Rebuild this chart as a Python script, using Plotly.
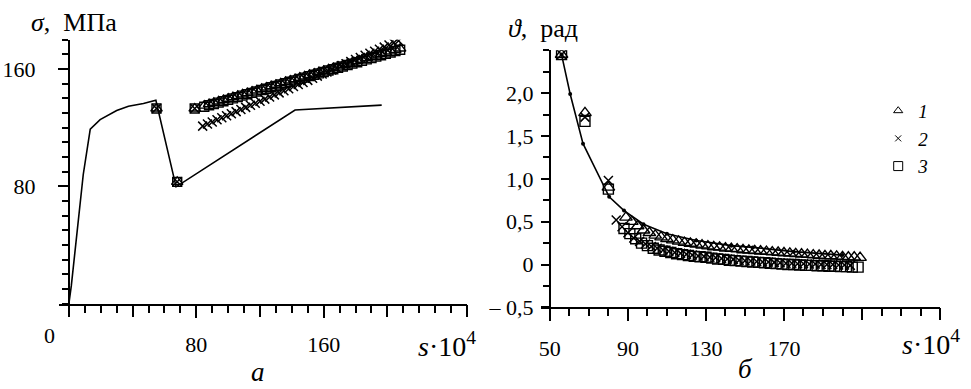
import plotly.graph_objects as go

# ---------------- Panel a: sigma (MPa) vs s*10^4 ----------------
s_line_a = [0, 1.5, 9, 13.4, 19.6, 30, 37.4, 46.8, 54.6, 67.3, 142, 196.4]
sigma_line_a = [0, 12, 88, 119, 125.4, 131.6, 134.6, 136.4, 138.6, 79.6, 132, 135.3]

s_a_13 = [55, 68, 79, 85, 88, 91, 94, 97, 100, 103, 106, 109, 112, 115, 118, 121, 124,
          127, 130, 133, 136, 139, 142, 145, 148, 151, 154, 157, 160, 163, 166, 169,
          172, 175, 178, 181, 184, 187, 190, 193, 196, 199, 202, 205, 208]
sigma_a_1 = [133, 83, 133, 135.0, 136.0, 136.9, 137.8, 138.8, 139.7, 140.7, 141.6, 142.6,
             143.5, 144.5, 145.4, 146.4, 147.3, 148.3, 149.2, 150.2, 151.1, 152.1, 153.0,
             154.0, 154.9, 155.9, 156.8, 157.8, 158.7, 159.7, 160.6, 161.6, 162.5, 163.5,
             164.4, 165.4, 166.3, 167.3, 168.2, 169.2, 170.1, 171.1, 172.0, 173.0, 173.9]
sigma_a_3 = [133, 83, 133, 134.2, 135.2, 136.1, 137.0, 138.0, 138.9, 139.9, 140.8, 141.8,
             142.7, 143.7, 144.6, 145.6, 146.5, 147.5, 148.4, 149.4, 150.3, 151.3, 152.2,
             153.2, 154.1, 155.1, 156.0, 157.0, 157.9, 158.9, 159.8, 160.8, 161.7, 162.7,
             163.6, 164.6, 165.5, 166.5, 167.4, 168.4, 169.3, 170.3, 171.2, 172.2, 173.1]
s_a_2 = [55, 68, 79, 84, 87, 90, 93, 96, 99, 102, 105, 108, 111, 114, 117, 120, 123, 126,
         129, 132, 135, 138, 141, 144, 147, 150, 153, 156, 159, 162, 165, 168, 171, 174,
         177, 180, 183, 186, 189, 192, 195, 198, 201, 204, 207]
sigma_a_2 = [133, 83, 133, 121.0, 122.4, 123.8, 125.3, 126.7, 128.1, 129.5, 130.9, 132.4,
             133.8, 135.2, 136.6, 138.0, 139.4, 140.9, 142.3, 143.7, 145.1, 146.5, 148.0,
             149.4, 150.8, 152.2, 153.6, 155.1, 156.5, 157.9, 159.3, 160.7, 162.2, 163.6,
             165.0, 166.4, 167.8, 169.3, 170.7, 172.1, 173.5, 174.9, 176.4, 177.8, 179.2]

# ---------------- Panel b: theta (rad) vs s*10^4 ----------------
s_line_b = [56, 60.4, 67, 80.4, 88, 98, 110, 125, 143, 154, 175, 200]
theta_line_b = [2.45, 1.99, 1.41, 0.79, 0.63, 0.47, 0.36, 0.28, 0.22, 0.20, 0.15, 0.11]

s_b_1 = [56, 68, 80, 89, 92, 95, 98, 101, 104, 107, 110, 113, 116, 119, 122, 125, 128, 131,
         134, 137, 140, 143, 146, 149, 152, 155, 158, 161, 164, 167, 170, 173, 176, 179,
         182, 185, 188, 191, 194, 197, 200, 203, 206, 209]
theta_b_1 = [2.45, 1.77, 0.90, 0.55, 0.50, 0.45, 0.40, 0.37, 0.34, 0.32, 0.30, 0.285, 0.27,
             0.255, 0.245, 0.235, 0.225, 0.215, 0.205, 0.20, 0.19, 0.185, 0.18, 0.17, 0.165,
             0.16, 0.155, 0.15, 0.145, 0.14, 0.135, 0.13, 0.125, 0.12, 0.115, 0.11, 0.105,
             0.10, 0.10, 0.095, 0.09, 0.085, 0.085, 0.08]
s_b_2 = [56, 68, 80, 84, 87, 90, 93, 96, 99, 102, 105, 108, 111, 114, 117, 120, 123, 126,
         129, 132, 135, 138, 141, 144, 147, 150, 153, 156, 159, 162, 165, 168, 171, 174,
         177, 180, 183, 186, 189, 192, 195, 198, 201, 204]
theta_b_2 = [2.45, 1.72, 0.98, 0.52, 0.44, 0.37, 0.31, 0.27, 0.24, 0.21, 0.19, 0.17, 0.155,
             0.14, 0.13, 0.12, 0.11, 0.10, 0.095, 0.085, 0.08, 0.07, 0.065, 0.06, 0.05, 0.045,
             0.04, 0.035, 0.03, 0.03, 0.025, 0.02, 0.015, 0.015, 0.01, 0.01, 0.005, 0.005,
             0.0, 0.0, 0.0, -0.005, -0.005, -0.01]
s_b_3 = [56, 68, 80, 88, 91, 94, 97, 100, 103, 106, 109, 112, 115, 118, 121, 124, 127, 130,
         133, 136, 139, 142, 145, 148, 151, 154, 157, 160, 163, 166, 169, 172, 175, 178,
         181, 184, 187, 190, 193, 196, 199, 202, 205, 208]
theta_b_3 = [2.45, 1.67, 0.88, 0.42, 0.36, 0.30, 0.25, 0.22, 0.19, 0.17, 0.155, 0.14, 0.125,
             0.115, 0.105, 0.095, 0.09, 0.085, 0.075, 0.065, 0.06, 0.05, 0.045, 0.04, 0.035,
             0.03, 0.025, 0.02, 0.015, 0.01, 0.005, 0.0, 0.0, -0.005, -0.01, -0.01, -0.015,
             -0.015, -0.02, -0.02, -0.025, -0.025, -0.03, -0.03]

series_names = ["<i>1</i>", "<i>2</i>", "<i>3</i>"]

# tick positions / labels
xa_label_vals = [80, 160]
xa_long_vals = [0, 40, 120, 200, 250]
ya_label_vals = [80, 160]
xb_label_vals = [50, 90, 130, 170]
xb_long_vals = [210, 250]
yb_label_vals = [-0.5, 0, 0.5, 1.0, 1.5, 2.0]
yb_label_text = ["\u2013 0,5", "0", "0,5", "1,0", "1,5", "2,0"]

FONT = "Liberation Serif"
BLACK = "black"
SYMBOLS = ["triangle-up-open", "x-thin-open", "square-open"]

fig = go.Figure()

# panel a
fig.add_trace(go.Scatter(x=s_line_a, y=sigma_line_a, mode="lines",
                         line=dict(color=BLACK, width=1.6), showlegend=False,
                         xaxis="x", yaxis="y"))
fig.add_trace(go.Scatter(x=s_a_13, y=sigma_a_1, mode="markers", showlegend=False,
                         marker=dict(symbol=SYMBOLS[0], size=10, color=BLACK,
                                     line=dict(width=1.4)), xaxis="x", yaxis="y"))
fig.add_trace(go.Scatter(x=s_a_2, y=sigma_a_2, mode="markers", showlegend=False,
                         marker=dict(symbol=SYMBOLS[1], size=9, color=BLACK,
                                     line=dict(width=1.5, color=BLACK)), xaxis="x", yaxis="y"))
fig.add_trace(go.Scatter(x=s_a_13, y=sigma_a_3, mode="markers", showlegend=False,
                         marker=dict(symbol=SYMBOLS[2], size=9, color=BLACK,
                                     line=dict(width=1.4)), xaxis="x", yaxis="y"))

# panel b
fig.add_trace(go.Scatter(x=s_line_b, y=theta_line_b, mode="lines+markers",
                         line=dict(color=BLACK, width=1.6),
                         marker=dict(size=4, color=BLACK), showlegend=False,
                         xaxis="x2", yaxis="y2"))
fig.add_trace(go.Scatter(x=s_b_1, y=theta_b_1, mode="markers", showlegend=False,
                         marker=dict(symbol=SYMBOLS[0], size=11, color=BLACK,
                                     line=dict(width=1.4)), xaxis="x2", yaxis="y2"))
fig.add_trace(go.Scatter(x=s_b_2, y=theta_b_2, mode="markers", showlegend=False,
                         marker=dict(symbol=SYMBOLS[1], size=9, color=BLACK,
                                     line=dict(width=1.5, color=BLACK)), xaxis="x2", yaxis="y2"))
fig.add_trace(go.Scatter(x=s_b_3, y=theta_b_3, mode="markers", showlegend=False,
                         marker=dict(symbol=SYMBOLS[2], size=10, color=BLACK,
                                     line=dict(width=1.4)), xaxis="x2", yaxis="y2"))

# legend entries (small symbols, as in the reference key)
legend_sizes = [8, 6, 9]
for name, sym, sz in zip(series_names, SYMBOLS, legend_sizes):
    fig.add_trace(go.Scatter(x=[None], y=[None], mode="markers", name=name,
                             marker=dict(symbol=sym, size=sz, color=BLACK,
                                         line=dict(width=1, color=BLACK)),
                             xaxis="x2", yaxis="y2"))

W, H = 971, 389

def px_x(p):
    return p / W

def px_y(p):
    return (H - p) / H

tickfont = dict(family=FONT, size=22, color=BLACK)

common_axis = dict(showgrid=False, zeroline=False, showline=True, linecolor=BLACK,
                   linewidth=2, ticks="outside", tickcolor=BLACK, tickwidth=1.5,
                   tickfont=tickfont, fixedrange=True)
tick_only = dict(showgrid=False, zeroline=False, showline=False, ticks="outside",
                 tickcolor=BLACK, tickwidth=1.5, showticklabels=False, fixedrange=True,
                 tickmode="array", ticklen=12)

fig.update_layout(
    width=W, height=H,
    margin=dict(l=0, r=0, t=0, b=0),
    paper_bgcolor="white", plot_bgcolor="white",
    font=dict(family=FONT, color=BLACK),
    xaxis=dict(common_axis, domain=[px_x(57), px_x(466)], range=[-6.3, 250],
               anchor="y", tickmode="array",
               tickvals=xa_label_vals, ticktext=[str(v) for v in xa_label_vals],
               ticklen=12, ticklabelstandoff=8,
               minor=dict(tick0=0, dtick=10, ticks="outside", ticklen=7,
                          tickcolor=BLACK, tickwidth=1.5)),
    xaxis3=dict(tick_only, overlaying="x", anchor="y", range=[-6.3, 250],
                tickvals=xa_long_vals),
    yaxis=dict(common_axis, domain=[px_y(314), px_y(41)], range=[0, 180],
               anchor="free", position=px_x(67), tickmode="array",
               tickvals=ya_label_vals, ticktext=[str(v) for v in ya_label_vals],
               ticklen=10, ticklabelstandoff=18,
               minor=dict(tick0=0, dtick=10, ticks="outside", ticklen=6,
                          tickcolor=BLACK, tickwidth=1.5)),
    xaxis2=dict(common_axis, domain=[px_x(540), px_x(940)], range=[45.4, 250],
                anchor="y2", tickmode="array",
                tickvals=xb_label_vals, ticktext=[str(v) for v in xb_label_vals],
                ticklen=12, ticklabelstandoff=8,
                minor=dict(tick0=50, dtick=10, ticks="outside", ticklen=7,
                           tickcolor=BLACK, tickwidth=1.5)),
    xaxis4=dict(tick_only, overlaying="x2", anchor="y2", range=[45.4, 250],
                tickvals=xb_long_vals),
    yaxis2=dict(common_axis, domain=[px_y(318), px_y(52)], range=[-0.5, 2.5],
                anchor="free", position=px_x(549), tickmode="array",
                tickvals=yb_label_vals, ticktext=yb_label_text,
                ticklen=8, ticklabelstandoff=3,
                minor=dict(tick0=0, dtick=0.25, ticks="outside", ticklen=6,
                           tickcolor=BLACK, tickwidth=1.5)),
    legend=dict(x=px_x(878), y=px_y(95), xanchor="left", yanchor="top",
                bgcolor="rgba(0,0,0,0)", font=dict(family=FONT, size=19, color=BLACK),
                itemsizing="trace", tracegroupgap=0),
    showlegend=True,
)

# invisible carriers so the tick-only overlay axes are drawn
fig.add_trace(go.Scatter(x=[None], y=[None], xaxis="x3", yaxis="y", showlegend=False,
                         hoverinfo="skip"))
fig.add_trace(go.Scatter(x=[None], y=[None], xaxis="x4", yaxis="y2", showlegend=False,
                         hoverinfo="skip"))

annots = [
    dict(text="<i>σ</i>,\u2002МПа", x=px_x(27), y=px_y(23), xanchor="left", yanchor="middle", size=26),
    dict(text="<i>ϑ</i>,\u2002рад", x=px_x(505), y=px_y(29), xanchor="left", yanchor="middle", size=26),
    dict(text="0", x=px_x(48), y=px_y(347), xanchor="center", yanchor="middle", size=22),
    dict(text="<i>s</i>·10<sup>4</sup>", x=px_x(415), y=px_y(356), xanchor="left", yanchor="middle", size=28),
    dict(text="<i>s</i>·10<sup>4</sup>", x=px_x(900), y=px_y(354), xanchor="left", yanchor="middle", size=28),
    dict(text="<i>а</i>", x=px_x(257), y=px_y(385), xanchor="center", yanchor="middle", size=27),
    dict(text="<i>б</i>", x=px_x(745), y=px_y(382), xanchor="center", yanchor="middle", size=27),
]
for a in annots:
    fig.add_annotation(text=a["text"], x=a["x"], y=a["y"], xref="paper", yref="paper",
                       xanchor=a["xanchor"], yanchor=a["yanchor"], showarrow=False,
                       font=dict(family=FONT, size=a["size"], color=BLACK))

fig.write_html("out.html")
